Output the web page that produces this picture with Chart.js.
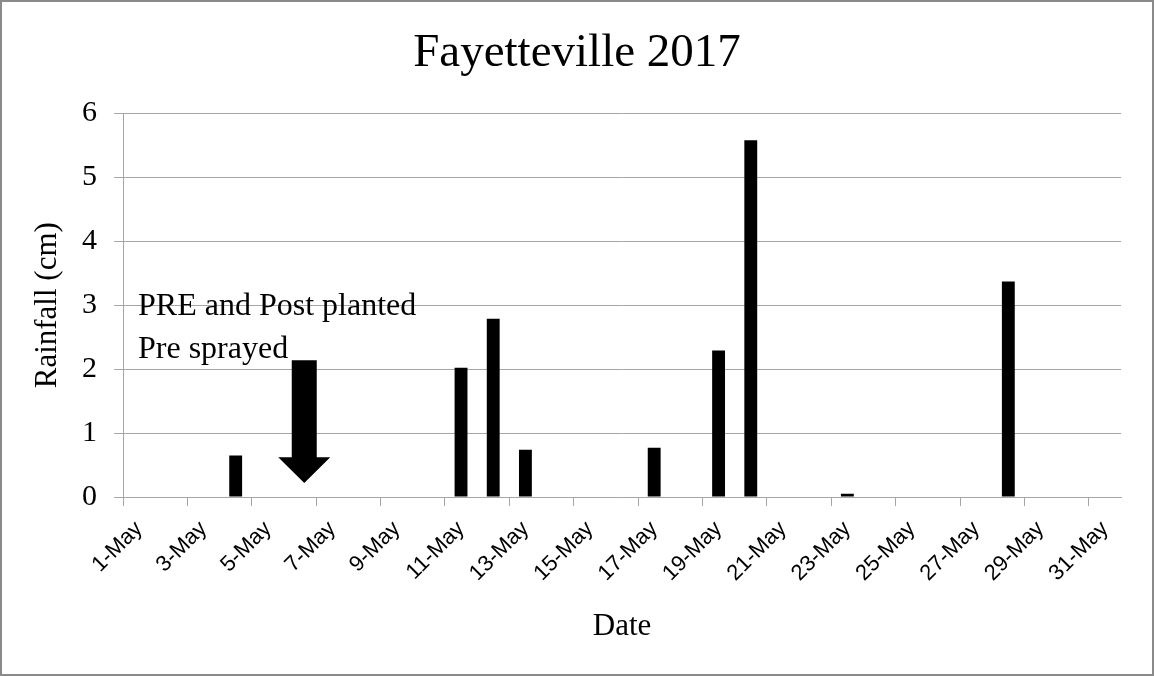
<!DOCTYPE html>
<html>
<head>
<meta charset="utf-8">
<title>Fayetteville 2017 rainfall</title>
<script src="https://cdn.jsdelivr.net/npm/chart.js@4/dist/chart.umd.min.js"></script>
<style>
  html, body { margin: 0; padding: 0; background: #fff; }
  #frame {
    width: 1154px; height: 676px; box-sizing: border-box;
    border: 2px solid #8a8a8a; background: #fff; position: relative;
  }
  #chart { display: block; }
</style>
</head>
<body>
<div id="frame"><canvas id="chart" width="1150" height="672"></canvas></div>
<script>
// Daily rainfall, May 2017
const categories = [
  '1-May', '2-May', '3-May', '4-May', '5-May', '6-May', '7-May', '8-May',
  '9-May', '10-May', '11-May', '12-May', '13-May', '14-May', '15-May', '16-May',
  '17-May', '18-May', '19-May', '20-May', '21-May', '22-May', '23-May', '24-May',
  '25-May', '26-May', '27-May', '28-May', '29-May', '30-May', '31-May'
];
const rainfallCm = [
  0, 0, 0, 0.65, 0, 0, 0, 0,
  0, 0, 2.02, 2.79, 0.74, 0, 0, 0,
  0.77, 0, 2.29, 5.58, 0, 0, 0.05, 0,
  0, 0, 0, 3.37, 0, 0, 0
];
const yTickValues = [0, 1, 2, 3, 4, 5, 6];

// Note about the spray date, placed in data units
const noteLines = ['PRE and Post planted', 'Pre sprayed'];
const noteBaselines = [2.84, 2.18];
const arrowDay = 5.13;          // just right of 6-May
const arrowShaftTop = 2.14;
const arrowHeadTop = 0.62;
const arrowTip = 0.22;

const GRID = '#a6a6a6';
const SERIF = "'Liberation Serif', 'Times New Roman', serif";
const SANS = "'Liberation Sans', Arial, sans-serif";

const sprayNote = {
  id: 'sprayNote',
  afterDraw(chart) {
    const { ctx, chartArea, scales: { x, y } } = chart;
    ctx.save();
    // downward arrow
    const cx = x.getPixelForValue(arrowDay);
    const shaftHalf = 12.5, headHalf = 26;
    const yTop = y.getPixelForValue(arrowShaftTop);
    const yHead = y.getPixelForValue(arrowHeadTop);
    const yTip = y.getPixelForValue(arrowTip);
    ctx.fillStyle = '#000';
    ctx.beginPath();
    ctx.moveTo(cx - shaftHalf, yTop);
    ctx.lineTo(cx + shaftHalf, yTop);
    ctx.lineTo(cx + shaftHalf, yHead);
    ctx.lineTo(cx + headHalf, yHead);
    ctx.lineTo(cx, yTip);
    ctx.lineTo(cx - headHalf, yHead);
    ctx.lineTo(cx - shaftHalf, yHead);
    ctx.closePath();
    ctx.fill();
    // caption
    ctx.font = '32px ' + SERIF;
    ctx.textAlign = 'left';
    ctx.textBaseline = 'alphabetic';
    noteLines.forEach((line, i) => {
      ctx.fillText(line, chartArea.left + 15, y.getPixelForValue(noteBaselines[i]));
    });
    ctx.restore();
  }
};

new Chart(document.getElementById('chart'), {
  type: 'bar',
  data: {
    labels: categories,
    datasets: [{
      label: 'Rainfall (cm)',
      data: rainfallCm,
      backgroundColor: '#000',
      borderWidth: 0,
      barPercentage: 0.4,
      categoryPercentage: 1.0
    }]
  },
  options: {
    responsive: false,
    animation: false,
    layout: { padding: 0 },
    plugins: {
      legend: { display: false },
      tooltip: { enabled: false },
      title: {
        display: true,
        text: 'Fayetteville 2017',
        color: '#000',
        font: { family: SERIF, size: 47, weight: 'normal' },
        padding: { top: 23, bottom: 32 }
      }
    },
    scales: {
      x: {
        offset: true,
        grid: {
          display: true,
          offset: true,
          drawOnChartArea: false,
          drawTicks: true,
          tickLength: 9,
          color: (c) => (c.index !== undefined && c.index % 2 === 0) ? GRID : 'rgba(0,0,0,0)'
        },
        border: { display: true, color: GRID, width: 1 },
        ticks: {
          autoSkip: false,
          minRotation: 45,
          maxRotation: 45,
          padding: 10,
          color: '#000',
          font: { family: SANS, size: 22 },
          callback: (v, i) => (i % 2 === 0 ? categories[i] : '')
        },
        title: {
          display: true,
          text: 'Date',
          color: '#000',
          font: { family: SERIF, size: 31, weight: 'normal' },
          padding: { top: 0, bottom: 29 }
        },
        afterFit: (s) => { s.height = 177; }
      },
      y: {
        min: 0,
        max: 6,
        afterBuildTicks: (s) => { s.ticks = yTickValues.map((v) => ({ value: v })); },
        grid: { color: GRID, tickLength: 9, drawTicks: true },
        border: { display: true, color: GRID, width: 1 },
        ticks: {
          padding: 17,
          color: '#000',
          font: { family: SERIF, size: 30 }
        },
        title: {
          display: true,
          text: 'Rainfall (cm)',
          color: '#000',
          font: { family: SERIF, size: 31, weight: 'normal' },
          padding: { top: 27, bottom: 0 }
        },
        afterFit: (s) => { s.width = 121; }
      },
      // empty margin on the right of the plot
      gutter: {
        type: 'linear',
        position: 'right',
        display: true,
        grid: { display: false },
        border: { display: false },
        ticks: { display: false },
        afterFit: (s) => { s.width = 31; }
      }
    }
  },
  plugins: [sprayNote]
});
</script>
</body>
</html>
